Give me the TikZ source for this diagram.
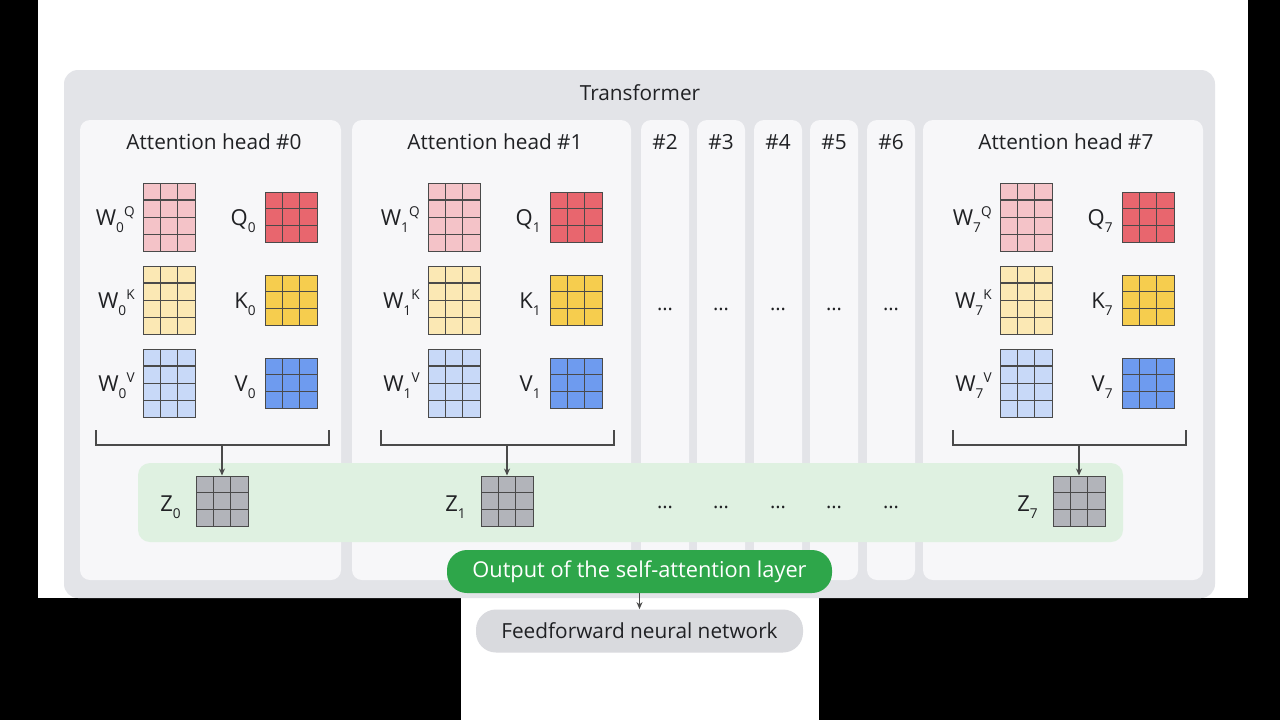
\documentclass[tikz,border=0pt]{standalone}
\usepackage{fontspec}
\setmainfont{Open Sans}
\usetikzlibrary{arrows.meta,calc}
\usepackage{xcolor}

\definecolor{outergray}{HTML}{E3E4E8}
\definecolor{headbg}{HTML}{F7F7F9}
\definecolor{bandgreen}{HTML}{DFF1E1}
\definecolor{pillgreen}{HTML}{2EA64A}
\definecolor{pillgray}{HTML}{D9DADE}
\definecolor{gridc}{HTML}{4A4A4A}
\definecolor{wqc}{HTML}{F4C3C8}
\definecolor{qc}{HTML}{E8666E}
\definecolor{wkc}{HTML}{FBE8B4}
\definecolor{kc}{HTML}{F6CD4E}
\definecolor{wvc}{HTML}{C8D9F8}
\definecolor{vc}{HTML}{6E9BEF}
\definecolor{zc}{HTML}{B2B4BA}
\definecolor{textc}{HTML}{202124}

\newcommand{\lowidx}[1]{\raisebox{-3.6pt}{\fontsize{6.8}{7}\selectfont #1}}
\newcommand{\highidx}[1]{\raisebox{4.2pt}{\fontsize{6.8}{7}\selectfont #1}}

\tikzset{
  title/.style={text=textc, font=\fontsize{10.4}{12}\selectfont, inner sep=0pt},
  lbl/.style={text=textc, font=\fontsize{11}{12}\selectfont, inner sep=0pt},
  dots/.style={text=textc, font=\fontsize{10}{12}\selectfont, inner sep=0pt},
  arr/.style={draw=gridc, line width=0.6pt, -{Stealth[length=3.5pt,width=3pt]}},
  wmat/.style={draw=gridc, line width=0.5pt, inner sep=0pt, minimum width=26pt, minimum height=34pt,
    path picture={
      \foreach \k in {1,2}
        \draw[gridc, line width=0.45pt] ($(path picture bounding box.north west)!\k/3!(path picture bounding box.north east)$) -- ($(path picture bounding box.south west)!\k/3!(path picture bounding box.south east)$);
      \foreach \k in {1,2,3}
        \draw[gridc, line width=0.45pt] ($(path picture bounding box.north west)!\k/4!(path picture bounding box.south west)$) -- ($(path picture bounding box.north east)!\k/4!(path picture bounding box.south east)$);
      \draw[gridc, line width=0.9pt] ($(path picture bounding box.north west)!1/4!(path picture bounding box.south west)$) -- ($(path picture bounding box.north east)!1/4!(path picture bounding box.south east)$);
    }},
  smat/.style={draw=gridc, line width=0.5pt, inner sep=0pt, minimum width=26pt, minimum height=25pt,
    path picture={
      \foreach \k in {1,2} {
        \draw[gridc, line width=0.45pt] ($(path picture bounding box.north west)!\k/3!(path picture bounding box.north east)$) -- ($(path picture bounding box.south west)!\k/3!(path picture bounding box.south east)$);
        \draw[gridc, line width=0.45pt] ($(path picture bounding box.north west)!\k/3!(path picture bounding box.south west)$) -- ($(path picture bounding box.north east)!\k/3!(path picture bounding box.south east)$);
      }
    }},
  pill/.style={rounded corners=10pt, inner sep=0pt, minimum height=21.5pt},
}

\begin{document}
\begin{tikzpicture}[x=0.5pt, y=-0.5pt]
    \useasboundingbox (0,0) rectangle (1280,720);
    \fill[black] (0,0) rectangle (1280,720);
    \fill[white] (38,0) rectangle (1248,598);
    \fill[white] (461,598) rectangle (819,720);

    \fill[outergray, rounded corners=7pt] (64,70) rectangle (1215,598);
    \node[title] (transformer) at (640,93) {Transformer};

    \foreach \l/\r in {80/341, 352/631, 641/689, 697/745, 754/802, 810/858, 867/915, 923/1203}
        \fill[headbg, rounded corners=5pt] (\l,120) rectangle (\r,580);

    \fill[bandgreen, rounded corners=6pt] (138,463) rectangle (1123,542);

    % heads with matrices
    \foreach \h/\o/\c in {0/0/214, 1/285/495, 7/857/1066} {
        \node[title] (head\h) at (\c,142) {Attention head \#\h};

        \node[wmat, fill=wqc] (wq\h) at (169+\o,217) {};
        \node[wmat, fill=wkc] (wk\h) at (169+\o,300) {};
        \node[wmat, fill=wvc] (wv\h) at (169+\o,383) {};
        \node[lbl, anchor=base east] (lwq\h) at (135+\o,225) {W\lowidx{\h}\highidx{Q}};
        \node[lbl, anchor=base east] (lwk\h) at (135+\o,308) {W\lowidx{\h}\highidx{K}};
        \node[lbl, anchor=base east] (lwv\h) at (135+\o,391) {W\lowidx{\h}\highidx{V}};

        \node[smat, fill=qc] (q\h) at (291+\o,217) {};
        \node[smat, fill=kc] (k\h) at (291+\o,300) {};
        \node[smat, fill=vc] (v\h) at (291+\o,383) {};
        \node[lbl, anchor=base east] (lq\h) at (256+\o,225) {Q\lowidx{\h}};
        \node[lbl, anchor=base east] (lk\h) at (256+\o,308) {K\lowidx{\h}};
        \node[lbl, anchor=base east] (lv\h) at (256+\o,391) {V\lowidx{\h}};

        \node[smat, fill=zc] (z\h) at (222+\o,501) {};
        \node[lbl, anchor=base east] (lz\h) at (181+\o,511) {Z\lowidx{\h}};

        \coordinate (bl\h) at (96+\o,430);
        \coordinate (br\h) at (329+\o,430);
        \coordinate (bm\h) at (222+\o,445);
        \draw[gridc, line width=0.6pt] (bl\h) -- ++(0,15) -| (br\h);
        \draw[arr] (bm\h) -- (z\h.north);
    }

    % narrow heads
    \foreach \n/\x in {2/665, 3/721, 4/778, 5/834, 6/891} {
        \node[title] (head\n) at (\x,142) {\#\n};
        \node[dots] (dots\n) at (\x,309) {...};
        \node[dots] (zdots\n) at (\x,507) {...};
    }

    \node[pill, fill=pillgreen, text=white, minimum width=192.5pt, font=\fontsize{10.9}{12}\selectfont] (out) at (639.5,571.5) {Output of the self-attention layer};
    \node[pill, fill=pillgray, text=textc, minimum width=163.5pt, font=\fontsize{10.4}{12}\selectfont] (ffn) at (639.5,631) {Feedforward neural network};
    \draw[arr] (out) -- (ffn);
\end{tikzpicture}
\end{document}
